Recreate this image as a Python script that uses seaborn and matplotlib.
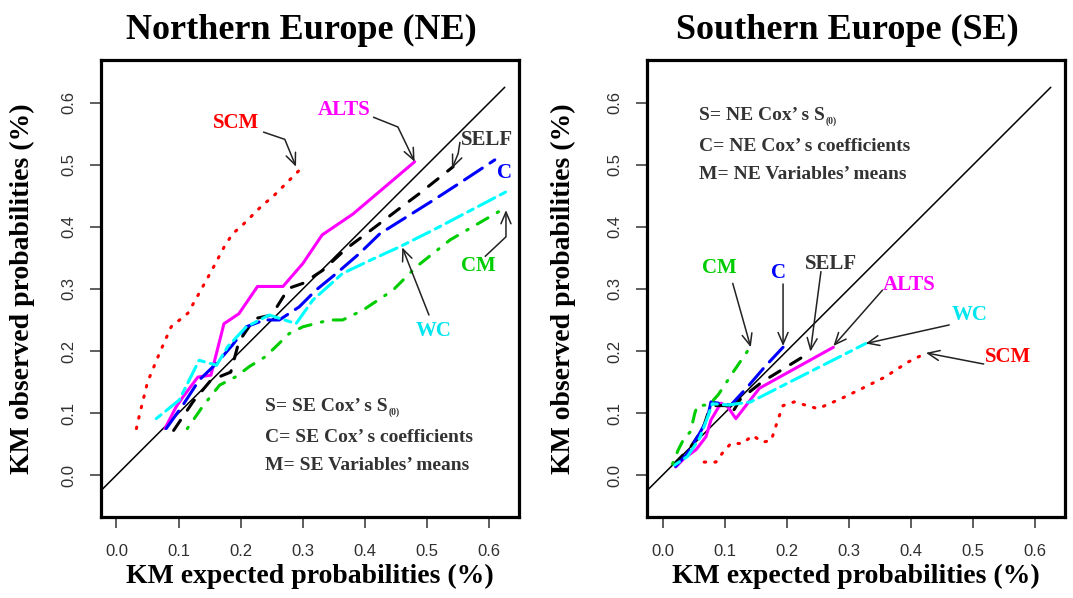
import numpy as np
import pandas as pd
import matplotlib
matplotlib.use("Agg")
import matplotlib.pyplot as plt
import seaborn as sns

# ---------------- data ----------------
models = ["SCM", "ALTS", "SELF", "C", "WC", "CM"]

# Northern Europe (NE) panel
ne_scm_x = [0.032, 0.037, 0.050, 0.069, 0.088, 0.115, 0.133, 0.155, 0.174, 0.187, 0.203, 0.219, 0.235, 0.252, 0.265, 0.281, 0.297]
ne_scm_y = [0.075, 0.097, 0.150, 0.196, 0.239, 0.261, 0.293, 0.333, 0.369, 0.389, 0.403, 0.419, 0.435, 0.449, 0.462, 0.478, 0.494]
ne_alts_x = [0.078, 0.096, 0.107, 0.131, 0.152, 0.173, 0.197, 0.227, 0.268, 0.300, 0.331, 0.381, 0.480]
ne_alts_y = [0.075, 0.110, 0.126, 0.158, 0.161, 0.244, 0.260, 0.304, 0.304, 0.341, 0.387, 0.421, 0.505]
ne_self_x = [0.092, 0.123, 0.152, 0.184, 0.197, 0.222, 0.250, 0.277, 0.300, 0.332, 0.370, 0.410, 0.456, 0.488, 0.542]
ne_self_y = [0.072, 0.118, 0.153, 0.166, 0.215, 0.252, 0.258, 0.301, 0.309, 0.330, 0.365, 0.395, 0.430, 0.454, 0.497]
ne_c_x = [0.080, 0.107, 0.133, 0.161, 0.187, 0.209, 0.238, 0.262, 0.294, 0.321, 0.354, 0.391, 0.424, 0.467, 0.510, 0.547, 0.609]
ne_c_y = [0.075, 0.113, 0.153, 0.180, 0.210, 0.239, 0.250, 0.250, 0.271, 0.298, 0.325, 0.357, 0.389, 0.416, 0.443, 0.467, 0.508]
ne_wc_x = [0.064, 0.101, 0.133, 0.161, 0.179, 0.209, 0.246, 0.289, 0.316, 0.364, 0.408, 0.456, 0.510, 0.628]
ne_wc_y = [0.091, 0.121, 0.185, 0.177, 0.207, 0.239, 0.258, 0.244, 0.282, 0.325, 0.346, 0.368, 0.395, 0.457]
ne_cm_x = [0.114, 0.139, 0.166, 0.193, 0.214, 0.240, 0.278, 0.300, 0.343, 0.364, 0.397, 0.445, 0.483, 0.537, 0.628]
ne_cm_y = [0.075, 0.111, 0.145, 0.159, 0.175, 0.191, 0.228, 0.239, 0.250, 0.250, 0.266, 0.298, 0.336, 0.379, 0.432]

# Southern Europe (SE) panel
se_scm_x = [0.067, 0.086, 0.096, 0.110, 0.129, 0.145, 0.161, 0.175, 0.186, 0.194, 0.212, 0.250, 0.287, 0.320, 0.358, 0.395, 0.425]
se_scm_y = [0.021, 0.021, 0.035, 0.051, 0.051, 0.064, 0.053, 0.056, 0.090, 0.112, 0.118, 0.107, 0.123, 0.139, 0.158, 0.182, 0.197]
se_alts_x = [0.021, 0.035, 0.054, 0.070, 0.078, 0.094, 0.105, 0.118, 0.156, 0.275]
se_alts_y = [0.013, 0.027, 0.041, 0.062, 0.089, 0.116, 0.110, 0.091, 0.140, 0.206]
se_self_x = [0.019, 0.045, 0.065, 0.075, 0.085, 0.105, 0.112, 0.125, 0.160, 0.238]
se_self_y = [0.018, 0.045, 0.075, 0.105, 0.112, 0.112, 0.100, 0.122, 0.150, 0.198]
se_c_x = [0.021, 0.040, 0.060, 0.072, 0.078, 0.095, 0.110, 0.135, 0.165, 0.194]
se_c_y = [0.014, 0.035, 0.068, 0.090, 0.118, 0.115, 0.113, 0.140, 0.175, 0.206]
se_wc_x = [0.019, 0.040, 0.060, 0.075, 0.080, 0.105, 0.142, 0.327]
se_wc_y = [0.016, 0.030, 0.060, 0.100, 0.115, 0.113, 0.118, 0.212]
se_cm_x = [0.016, 0.025, 0.035, 0.045, 0.052, 0.056, 0.075, 0.090, 0.115, 0.141]
se_cm_y = [0.018, 0.040, 0.060, 0.070, 0.100, 0.112, 0.113, 0.130, 0.168, 0.206]

diag_x = [-0.025, 0.625]
diag_y = [-0.025, 0.625]

tick_values = [0.0, 0.1, 0.2, 0.3, 0.4, 0.5, 0.6]
tick_labels = ["0.0", "0.1", "0.2", "0.3", "0.4", "0.5", "0.6"]

titles = ["Northern Europe (NE)", "Southern Europe (SE)"]
xlabel = "KM expected probabilities (%)"
ylabel = "KM observed probabilities (%)"
ne_notes = ["S= SE Cox\u2019 s S", "C= SE Cox\u2019 s coefficients", "M= SE Variables\u2019 means"]
se_notes = ["S= NE Cox\u2019 s S", "C= NE Cox\u2019 s coefficients", "M= NE Variables\u2019 means"]
note_sub = "(0)"

# ---------------- styles ----------------
colors = {"SCM": "#FF0000", "ALTS": "#FF00FF", "SELF": "#000000",
          "C": "#0000FF", "WC": "#00FFFF", "CM": "#00CD00"}
label_colors = {"SCM": "#FF0000", "ALTS": "#FF00FF", "SELF": "#333333",
                "C": "#0000FF", "WC": "#00E5EE", "CM": "#00CD00"}
dashes = {"SCM": (0.5, 3), "ALTS": "", "SELF": (4, 4),
          "C": (7, 3), "WC": (2, 2, 6, 2), "CM": (0.5, 3.5, 4, 3.5)}

sns.set_theme(style="white")
plt.rcParams["font.family"] = ["Liberation Serif", "DejaVu Serif"]
plt.rcParams["text.color"] = "black"
plt.rcParams["axes.labelcolor"] = "black"
plt.rcParams["axes.titlecolor"] = "black"


def make_df(series):
    rows = []
    for name, (xs, ys) in series.items():
        for xv, yv in zip(xs, ys):
            rows.append({"x": xv, "y": yv, "model": name})
    return pd.DataFrame(rows)


ne_df = make_df({"SCM": (ne_scm_x, ne_scm_y), "ALTS": (ne_alts_x, ne_alts_y),
                 "SELF": (ne_self_x, ne_self_y), "C": (ne_c_x, ne_c_y),
                 "WC": (ne_wc_x, ne_wc_y), "CM": (ne_cm_x, ne_cm_y)})
se_df = make_df({"SCM": (se_scm_x, se_scm_y), "ALTS": (se_alts_x, se_alts_y),
                 "SELF": (se_self_x, se_self_y), "C": (se_c_x, se_c_y),
                 "WC": (se_wc_x, se_wc_y), "CM": (se_cm_x, se_cm_y)})

# annotations: (model, label position, arrow path [start, (bend), tip] or None)
ne_annot = [
    ("SCM", (0.193, 0.567), [(0.236, 0.553), (0.271, 0.541), (0.289, 0.497)]),
    ("ALTS", (0.367, 0.588), [(0.413, 0.577), (0.453, 0.561), (0.480, 0.505)]),
    ("SELF", (0.596, 0.540), [(0.553, 0.537), (0.550, 0.518), (0.540, 0.494)]),
    ("C", (0.624, 0.487), None),
    ("CM", (0.582, 0.337), [(0.593, 0.352), (0.627, 0.384), (0.627, 0.427)]),
    ("WC", (0.510, 0.233), [(0.503, 0.258), (0.460, 0.367)]),
]
se_annot = [
    ("CM", (0.091, 0.333), [(0.113, 0.309), (0.142, 0.206)]),
    ("C", (0.187, 0.325), [(0.194, 0.308), (0.194, 0.208)]),
    ("SELF", (0.271, 0.341), [(0.255, 0.328), (0.238, 0.199)]),
    ("ALTS", (0.397, 0.306), [(0.354, 0.298), (0.275, 0.208)]),
    ("WC", (0.495, 0.258), [(0.4615, 0.242), (0.327, 0.212)]),
    ("SCM", (0.5555, 0.191), [(0.517, 0.179), (0.424, 0.197)]),
]

fig = plt.figure(figsize=(10.73, 5.98), dpi=100)
ax_ne = fig.add_axes([0.0941, 0.1360, 0.3896, 0.7637])
ax_se = fig.add_axes([0.6030, 0.1360, 0.3896, 0.7637])

arrow_col = "#222222"
first_notes = []

for ax, df, title, notes, notes_xy, annots, ylab_x in [
    (ax_ne, ne_df, titles[0], ne_notes, (0.239, [0.1035, 0.0535, 0.0085]), ne_annot, -0.157),
    (ax_se, se_df, titles[1], se_notes, (0.058, [0.5725, 0.5225, 0.4775]), se_annot, -0.170),
]:
    ax.plot(diag_x, diag_y, color="black", lw=1.1, zorder=1)
    sns.lineplot(data=df, x="x", y="y", hue="model", style="model",
                 hue_order=models, style_order=models, palette=colors,
                 dashes=dashes, sort=False, estimator=None, legend=False,
                 linewidth=2.2, dash_capstyle="round", solid_capstyle="round",
                 solid_joinstyle="round", ax=ax, zorder=2)
    ax.set_xlim(-0.025, 0.648)
    ax.set_ylim(-0.067, 0.669)
    ax.set_xticks(tick_values)
    ax.set_xticklabels(tick_labels, fontfamily="Liberation Sans", color="#303030")
    ax.set_yticks(tick_values)
    ax.set_yticklabels(tick_labels, fontfamily="Liberation Sans", color="#303030",
                       rotation=90, va="center")
    ax.tick_params(axis="both", which="major", length=8, width=1.1,
                   color="#333333", labelsize=12, direction="out",
                   bottom=True, left=True)
    ax.tick_params(axis="x", pad=12)
    ax.tick_params(axis="y", pad=10)
    for sp in ax.spines.values():
        sp.set_linewidth(2.3)
        sp.set_color("black")
    ax.set_title(title, fontsize=26, fontweight="bold", pad=15, x=0.48,
                 color="black")
    ax.set_xlabel(xlabel, fontsize=20, fontweight="bold", color="black")
    ax.set_ylabel(ylabel, fontsize=20, fontweight="bold", color="black")
    ax.xaxis.set_label_coords(0.5, -0.104)
    ax.yaxis.set_label_coords(ylab_x, 0.5)

    nx, nys = notes_xy
    for i, (txt, ny) in enumerate(zip(notes, nys)):
        t = ax.text(nx, ny, txt, fontsize=14, fontweight="bold", color="#333333",
                    ha="left", va="baseline")
        if i == 0:
            first_notes.append(t)

    for name, (lx, ly), path in annots:
        ax.text(lx, ly, name, fontsize=15, fontweight="bold",
                color=label_colors[name], ha="center", va="center")
        if path is None:
            continue
        if len(path) > 2:
            px = [p[0] for p in path[:-1]]
            py = [p[1] for p in path[:-1]]
            ax.plot(px, py, color=arrow_col, lw=1.1, solid_capstyle="butt")
        ax.annotate("", xy=path[-1], xytext=path[-2],
                    arrowprops=dict(arrowstyle="->,head_length=0.7,head_width=0.3",
                                    color=arrow_col, lw=1.1,
                                    shrinkA=0, shrinkB=0))

# small subscript "(0)" right after the first note line of each panel
fig.canvas.draw()
renderer = fig.canvas.get_renderer()
for t in first_notes:
    bb = t.get_window_extent(renderer=renderer)
    base = t.get_transform().transform(t.get_position())
    t.axes.annotate(note_sub, xy=(bb.x1 + 1, base[1] - 4), xycoords="figure pixels",
                    fontsize=7, fontweight="bold", color="#333333",
                    ha="left", va="baseline")

fig.savefig("out.png", dpi=100)
